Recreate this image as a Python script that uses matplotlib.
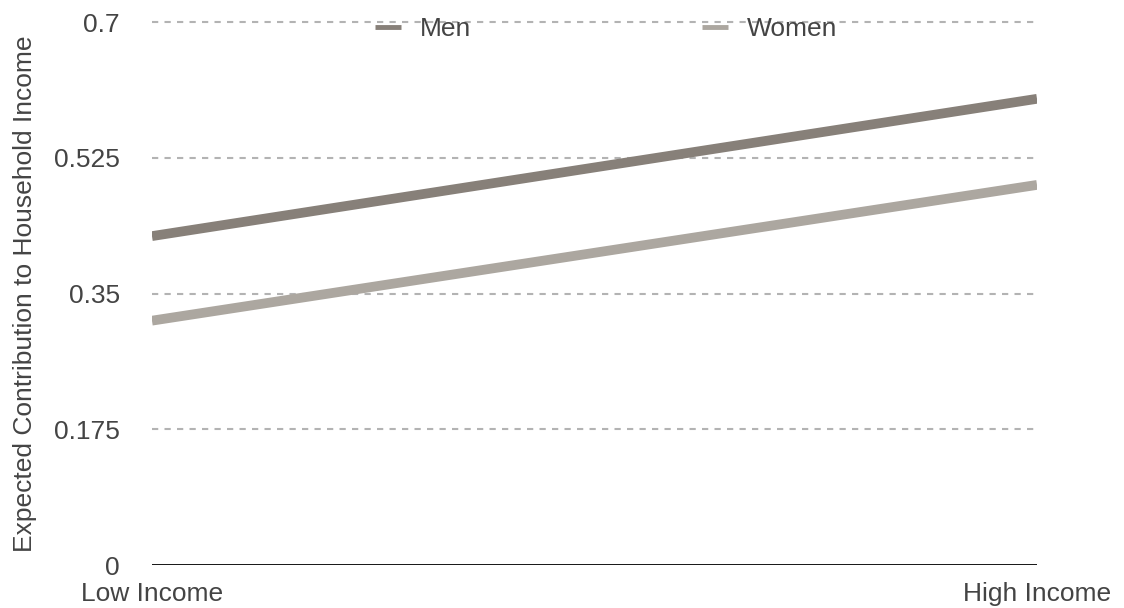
import matplotlib.pyplot as plt

plt.rcParams['font.family'] = ['Liberation Sans', 'DejaVu Sans']

# Expected contribution by income level
income_levels = ['Low Income', 'High Income']
men = [0.424, 0.601]
women = [0.315, 0.490]
y_ticks = [0, 0.175, 0.35, 0.525, 0.7]

text_color = '#444444'
fs = 19

fig = plt.figure(figsize=(11.24, 6.08), dpi=100)
ax = fig.add_axes([0.1352, 0.0707, 0.7874, 0.8931])

x = list(range(len(income_levels)))
ax.plot(x, men, color='#878079', linewidth=7, solid_capstyle='butt', label='Men', zorder=3)
ax.plot(x, women, color='#aca7a0', linewidth=7, solid_capstyle='butt', label='Women', zorder=3)

ax.set_xlim(0, 1)
ax.set_ylim(0, 0.7)
ax.set_yticks(y_ticks)
ax.set_yticklabels(['0', '0.175', '0.35', '0.525', '0.7'])
ax.set_xticks(x)
ax.set_xticklabels(income_levels)

for t in y_ticks[1:]:
    ax.axhline(t, color='#b3b3b3', linewidth=1.5, linestyle=(0, (3, 3)), zorder=1, clip_on=False)
ax.axhline(0, color='black', linewidth=2, zorder=2)

for side in ['top', 'right', 'left', 'bottom']:
    ax.spines[side].set_visible(False)
ax.tick_params(axis='both', length=0, labelsize=fs, labelcolor=text_color)
ax.tick_params(axis='y', pad=23)
ax.tick_params(axis='x', pad=12)

ax.set_ylabel('Expected Contribution to Household Income', fontsize=fs, color=text_color, labelpad=12)

leg = ax.legend(loc='center', bbox_to_anchor=(0.513, 0.9865), ncol=2, frameon=False,
                fontsize=fs, handlelength=1.0, handletextpad=0.7, columnspacing=8.76,
                labelcolor=text_color)
for h in leg.get_lines():
    h.set_linewidth(3.5)

fig.savefig('out.png', dpi=100)
